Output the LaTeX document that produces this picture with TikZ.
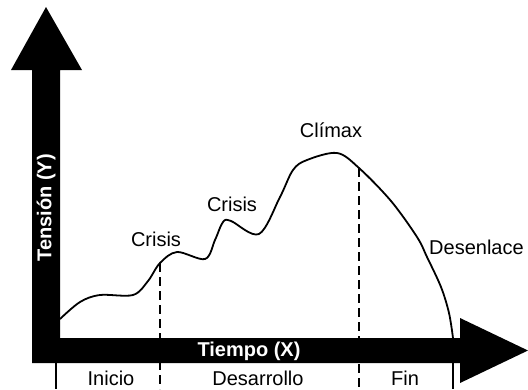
\documentclass[tikz,border=0pt]{standalone}
\usepackage{fontspec}
\setmainfont{Liberation Sans}
\tikzset{
  lbl/.style={font=\fontsize{20}{22}\selectfont, inner sep=0pt},
  axislbl/.style={font=\fontsize{20}{22}\selectfont\bfseries, text=white, inner sep=0pt},
  divline/.style={line width=1.3pt, dash pattern=on 9pt off 5pt},
}
\begin{document}
\begin{tikzpicture}[x=1pt,y=-1pt]
          \useasboundingbox (0,0) rectangle (528,389);
          % curve points
          \coordinate (start) at (60,319);
          \coordinate (cut1) at (160,263);
          \coordinate (cut2) at (359,168);
          \coordinate (finish) at (453,338);
          % dividers
          \draw[divline] (cut1) -- (160,389);
          \draw[divline] (cut2) -- (359,389);
          \draw[line width=1.3pt] (56,363) -- (56,389);
          \draw[line width=1.3pt] (finish) -- (453,389);
          % tension curve
          \draw[line width=1.8pt, line join=round] plot[smooth, tension=0.55] coordinates {
            (start) (80,302) (100,295) (133,295) (148,281) (cut1) (177,252) (205,259)
            (215,240) (223,222) (231,221) (259,234) (280,197) (293,170) (307,160)
            (337,153) (cut2) (391,201) (417,237) (427,257) (441,287) (449,313) (finish)};
          % axes
          \fill (32,363) -- (32,70) -- (11,70) -- (46,7) -- (82,70) -- (60,70) -- (60,338)
            -- (460,338) -- (460,318) -- (528,350.5) -- (460,383) -- (460,363) -- cycle;
          \node[axislbl, rotate=90] (ylbl) at (46,208) {Tensión (Y)};
          \node[axislbl] (xlbl) at (249,351) {Tiempo (X)};
          % labels
          \node[lbl] (crisisa) at (156,239) {Crisis};
          \node[lbl] (crisisb) at (232,204) {Crisis};
          \node[lbl] (climax) at (331,130) {Clímax};
          \node[lbl, anchor=west] (desenlace) at (429,247) {Desenlace};
          \node[lbl] (inicio) at (111,378) {Inicio};
          \node[lbl] (desarrollo) at (258,378) {Desarrollo};
          \node[lbl] (fin) at (405,378) {Fin};
        \end{tikzpicture}
\end{document}
